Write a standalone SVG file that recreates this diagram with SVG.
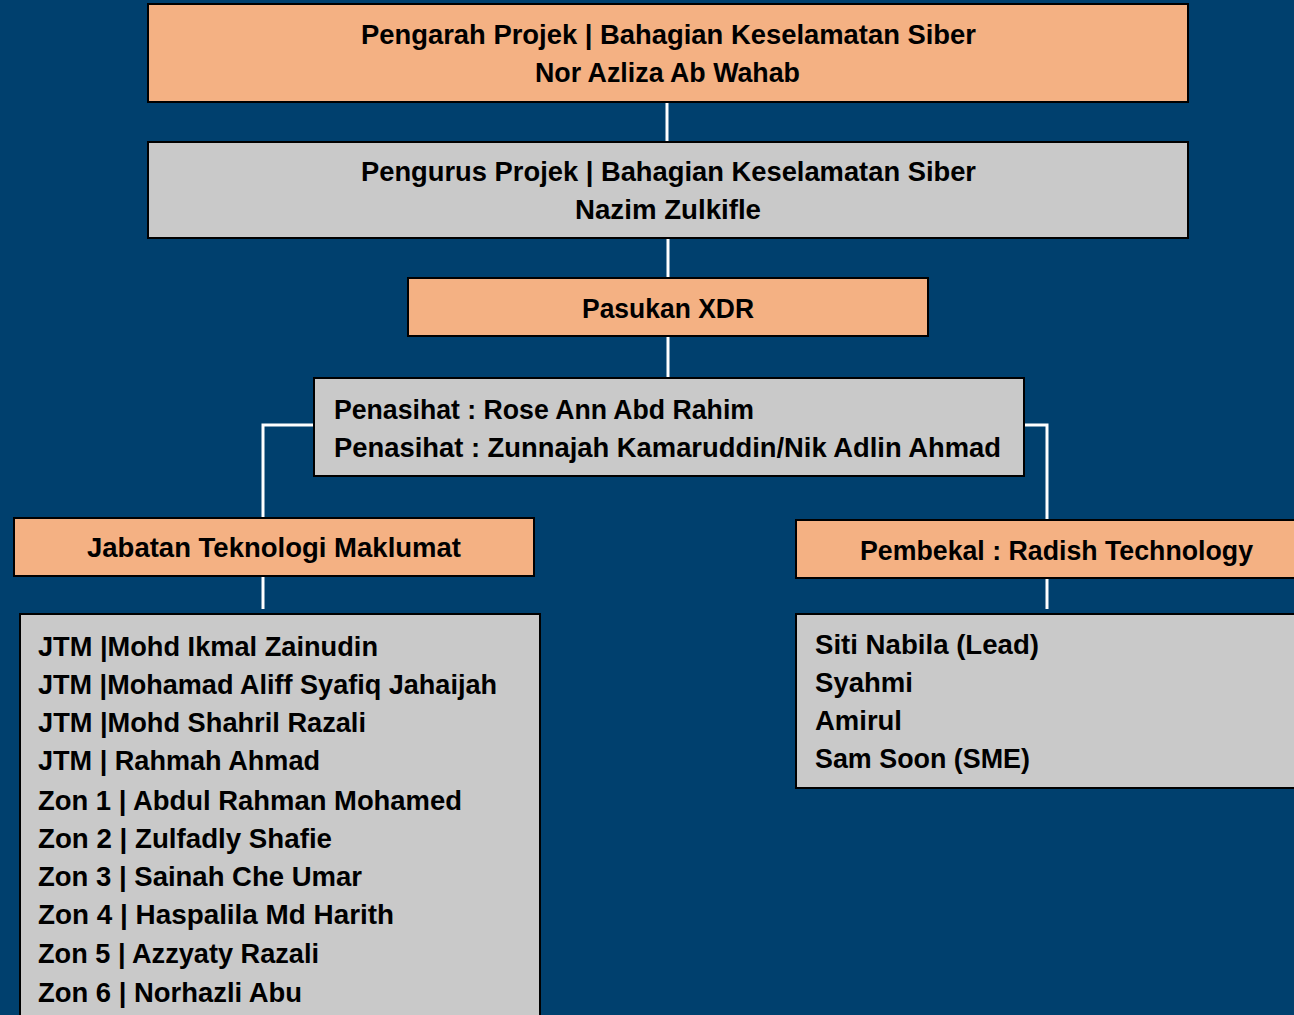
<svg xmlns="http://www.w3.org/2000/svg" width="1294" height="1015" viewBox="0 0 1294 1015">
<style>
.bg{fill:#00406E}
.peach{fill:#F4B183;stroke:#000;stroke-width:2}
.gray{fill:#C9C9C9;stroke:#000;stroke-width:2}
.t{font-family:"Liberation Sans",Arial,sans-serif;font-weight:bold;font-size:27px;fill:#000}
.c{fill:none;stroke:#fff;stroke-width:3}
</style>
<rect class="bg" x="0" y="0" width="1294" height="1015"/>
<g id="connectors">
<line class="c" x1="667" y1="102" x2="667" y2="142"/>
<line class="c" x1="668" y1="238" x2="668" y2="278"/>
<line class="c" x1="668" y1="336" x2="668" y2="378"/>
<polyline class="c" points="314,425 263,425 263,518"/>
<line class="c" x1="263" y1="576" x2="263" y2="609"/>
<polyline class="c" points="1024,425 1047,425 1047,520"/>
<line class="c" x1="1047" y1="578" x2="1047" y2="609"/>
</g>
<g id="pengarah">
<rect class="peach" x="148" y="4" width="1040" height="98"/>
<text class="t" x="361" y="44" textLength="615" lengthAdjust="spacingAndGlyphs">Pengarah Projek | Bahagian Keselamatan Siber</text>
<text class="t" x="535" y="82" textLength="265" lengthAdjust="spacingAndGlyphs">Nor Azliza Ab Wahab</text>
</g>
<g id="pengurus">
<rect class="gray" x="148" y="142" width="1040" height="96"/>
<text class="t" x="361" y="181" textLength="615" lengthAdjust="spacingAndGlyphs">Pengurus Projek | Bahagian Keselamatan Siber</text>
<text class="t" x="575" y="219" textLength="186" lengthAdjust="spacingAndGlyphs">Nazim Zulkifle</text>
</g>
<g id="pasukan">
<rect class="peach" x="408" y="278" width="520" height="58"/>
<text class="t" x="582" y="318" textLength="172" lengthAdjust="spacingAndGlyphs">Pasukan XDR</text>
</g>
<g id="penasihat">
<rect class="gray" x="314" y="378" width="710" height="98"/>
<text class="t" x="334" y="419" textLength="420" lengthAdjust="spacingAndGlyphs">Penasihat : Rose Ann Abd Rahim</text>
<text class="t" x="334" y="457" textLength="667" lengthAdjust="spacingAndGlyphs">Penasihat : Zunnajah Kamaruddin/Nik Adlin Ahmad</text>
</g>
<g id="jabatan">
<rect class="peach" x="14" y="518" width="520" height="58"/>
<text class="t" x="87" y="557" textLength="374" lengthAdjust="spacingAndGlyphs">Jabatan Teknologi  Maklumat</text>
</g>
<g id="pembekal">
<rect class="peach" x="796" y="520" width="520" height="58"/>
<text class="t" x="860" y="560" textLength="393" lengthAdjust="spacingAndGlyphs">Pembekal : Radish Technology</text>
</g>
<g id="jtm-list">
<rect class="gray" x="20" y="614" width="520" height="420"/>
<text class="t" x="38" y="656" textLength="340" lengthAdjust="spacingAndGlyphs">JTM |Mohd Ikmal Zainudin</text>
<text class="t" x="38" y="694" textLength="459" lengthAdjust="spacingAndGlyphs">JTM |Mohamad Aliff Syafiq Jahaijah</text>
<text class="t" x="38" y="732" textLength="328" lengthAdjust="spacingAndGlyphs">JTM |Mohd Shahril Razali</text>
<text class="t" x="38" y="770" textLength="282" lengthAdjust="spacingAndGlyphs">JTM | Rahmah Ahmad</text>
<text class="t" x="38" y="810" textLength="424" lengthAdjust="spacingAndGlyphs">Zon 1 | Abdul Rahman Mohamed</text>
<text class="t" x="38" y="848" textLength="294" lengthAdjust="spacingAndGlyphs">Zon 2 | Zulfadly Shafie</text>
<text class="t" x="38" y="886" textLength="324" lengthAdjust="spacingAndGlyphs">Zon 3 | Sainah Che Umar</text>
<text class="t" x="38" y="924" textLength="356" lengthAdjust="spacingAndGlyphs">Zon 4 | Haspalila Md Harith</text>
<text class="t" x="38" y="963" textLength="281" lengthAdjust="spacingAndGlyphs">Zon 5 | Azzyaty Razali</text>
<text class="t" x="38" y="1002" textLength="264" lengthAdjust="spacingAndGlyphs">Zon 6 | Norhazli Abu</text>
</g>
<g id="vendor-list">
<rect class="gray" x="796" y="614" width="520" height="174"/>
<text class="t" x="815" y="654" textLength="224" lengthAdjust="spacingAndGlyphs">Siti Nabila (Lead)</text>
<text class="t" x="815" y="692" textLength="98" lengthAdjust="spacingAndGlyphs">Syahmi</text>
<text class="t" x="815" y="730" textLength="87" lengthAdjust="spacingAndGlyphs">Amirul</text>
<text class="t" x="815" y="768" textLength="215" lengthAdjust="spacingAndGlyphs">Sam Soon (SME)</text>
</g>
</svg>
